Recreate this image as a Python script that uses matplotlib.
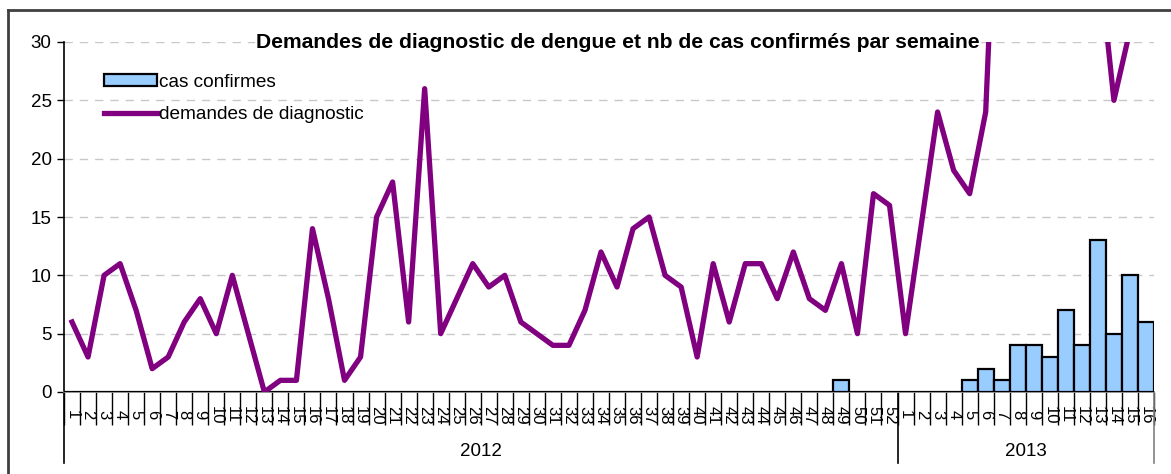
import numpy as np
import matplotlib.pyplot as plt
from matplotlib.lines import Line2D
from matplotlib.transforms import blended_transform_factory

plt.rcParams['font.family'] = ['Liberation Sans', 'DejaVu Sans']

# semaines 2012 (1..52) puis 2013 (1..16)
weeks_2012 = list(range(1, 53))
weeks_2013 = list(range(1, 17))
week_labels = [str(w) for w in weeks_2012 + weeks_2013]
years = ["2012", "2013"]

demandes_2012 = [6, 3, 10, 11, 7, 2, 3, 6, 8, 5, 10, 5, 0, 1, 1, 14, 8, 1, 3, 15,
                 18, 6, 26, 5, 8, 11, 9, 10, 6, 5, 4, 4, 7, 12, 9, 14, 15, 10, 9, 3,
                 11, 6, 11, 11, 8, 12, 8, 7, 11, 5, 17, 16]
# semaines 7 a 13 hors echelle (> 30), semaine 16 pas encore connue
demandes_2013 = [5, 14.5, 24, 19, 17, 24, 56, 60, 70, 65, 55, 50, 38, 25, 31, np.nan]

cas_2012 = [0] * 48 + [1, 0, 0, 0]
cas_2013 = [0, 0, 0, 0, 1, 2, 1, 4, 4, 3, 7, 4, 13, 5, 10, 6]

demandes = demandes_2012 + demandes_2013
cas = cas_2012 + cas_2013
n = len(week_labels)
x = np.arange(n) + 0.5

fig = plt.figure(figsize=(11.71, 4.74), dpi=100)
ax = fig.add_axes([64 / 1171, 1 - 392 / 474, 1090 / 1171, 350 / 474])

bars = ax.bar(x, cas, width=1.0, color="#99CCFF", edgecolor="black", linewidth=1.6,
              zorder=3, label="cas confirmes")
line, = ax.plot(x, demandes, color="#800080", linewidth=3.8, zorder=4,
                label="demandes de diagnostic")

ax.set_xlim(0, n)
ax.set_ylim(0, 30)
ax.set_yticks(range(0, 31, 5))
ax.tick_params(axis="y", labelsize=13.5, length=5, width=1, pad=4)
ax.yaxis.grid(True, linestyle=(0, (6, 5)), color="#c8c8c8", linewidth=1)
ax.set_axisbelow(True)

ax.set_xticks(x)
ax.set_xticklabels(week_labels, rotation=270, fontsize=12, va="center", ha="center")
ax.tick_params(axis="x", which="major", length=0, pad=16.5)
ax.set_xticks(np.arange(0, n + 1), minor=True)
ax.tick_params(axis="x", which="minor", length=24, width=1, color="black")

for s in ["top", "right"]:
    ax.spines[s].set_visible(False)
ax.spines["bottom"].set_color("#808080")
ax.spines["bottom"].set_linewidth(1.2)
ax.spines["left"].set_linewidth(1.2)

# separateurs d'annees et libelles
trans = blended_transform_factory(ax.transData, ax.transAxes)
low = -71 / 350
for xs, col in [(0, "black"), (52, "black"), (n, "#808080")]:
    ax.add_line(Line2D([xs, xs], [0, low], transform=trans, color=col,
                       linewidth=1.2, clip_on=False))
ax.text(26, -60 / 350, years[0], transform=trans, ha="center", va="center", fontsize=13.5)
ax.text(52 + 8, -60 / 350, years[1], transform=trans, ha="center", va="center", fontsize=13.5)

fig.text(618 / 1171, 1 - 43 / 474,
         "Demandes de diagnostic de dengue et nb de cas confirmés par semaine",
         ha="center", va="center", fontsize=15.2, fontweight="bold", zorder=10,
         bbox=dict(facecolor="white", edgecolor="none", pad=1))

ax.legend(handles=[bars, line], loc="upper left", bbox_to_anchor=(96 / 1171, 1 - 66 / 474),
          bbox_transform=fig.transFigure, frameon=False, fontsize=13.7,
          handlelength=2.8, handleheight=0.65, handletextpad=0.1, labelspacing=0.82,
          borderaxespad=0)

# cadre exterieur
fig.add_artist(Line2D([8 / 1171, 8 / 1171], [0, 1 - 10 / 474], transform=fig.transFigure,
                      color="#404040", linewidth=2))
fig.add_artist(Line2D([8 / 1171, 1], [1 - 10 / 474, 1 - 10 / 474], transform=fig.transFigure,
                      color="#404040", linewidth=2))

fig.savefig("out.png", dpi=100)
